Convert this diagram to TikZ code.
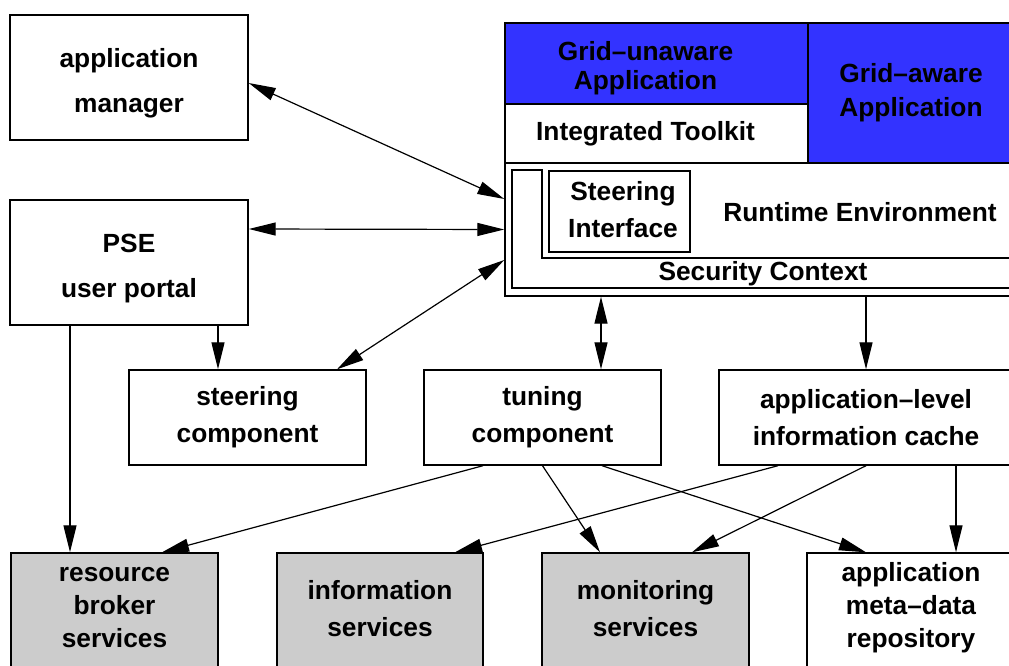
\documentclass[tikz,border=0pt]{standalone}
\usepackage{fontspec}
\setmainfont{Liberation Sans}
\usetikzlibrary{arrows.meta,calc}
\definecolor{gridblue}{RGB}{51,51,255}
\definecolor{svcgray}{RGB}{204,204,204}

\begin{document}
\begin{tikzpicture}
[
	x=1pt, y=-1pt,
	head/.tip={Triangle[length=27pt,width=13pt]},
	box/.style={draw, line width=1.4pt, inner sep=0pt, align=center},
	frame/.style={draw, line width=1.4pt},
	txt/.style={align=center, font=\fontsize{26.3}{#1}\selectfont\bfseries},
	link/.style={line width=1.2pt, -head},
	dlink/.style={line width=1.2pt, head-head}
]
	\useasboundingbox (0,0) rectangle (1009,666);

	% application block
	\draw[frame, fill=gridblue] (505,23) rectangle (808,104);
	\draw[frame] (505,104) rectangle (808,163);
	\draw[frame, fill=gridblue] (808,23) rectangle (1020,163);
	\node[box, minimum width=515pt, minimum height=133pt] (rte) at (762.5,229.5) {};
	\draw[frame] (1020,258) -- (542,258) -- (542,170) -- (512,170) -- (512,288) -- (1020,288);
	\node[box, minimum width=141pt, minimum height=81pt] (steerif) at (619.5,211.5) {};
	\node[txt=37] (steeriftxt) at (623,209.5) {Steering\\Interface};
	\node[txt=29] (gua) at (645.5,68) {Grid\textendash unaware\\Application};
	\node[txt=34] (ga) at (911,93) {Grid\textendash aware\\Application};
	\node[txt=30] (itk) at (645.5,134) {Integrated Toolkit};
	\node[txt=30] (rtetxt) at (860,212.5) {Runtime Environment};
	\node[txt=30] (sec) at (763,274) {Security Context};

	% user side
	\node[box, minimum width=238pt, minimum height=125pt] (appmgr) at (129,77.5) {};
	\node[txt=45] (appmgrtxt) at (129,83.5) {application\\manager};
	\node[box, minimum width=238pt, minimum height=125pt] (pse) at (129,262.5) {};
	\node[txt=45] (psetxt) at (129,268.5) {PSE\\user portal};

	% components
	\node[box, txt=37, minimum width=237pt, minimum height=95pt] (steer) at (247.5,417.5) {steering\\component};
	\node[box, txt=37, minimum width=237pt, minimum height=95pt] (tune) at (542.5,417.5) {tuning\\component};
	\node[box, txt=37, minimum width=294pt, minimum height=95pt] (cache) at (866,417.5) {application\textendash level\\information cache};

	% services
	\node[box, fill=svcgray, minimum width=207pt, minimum height=140pt] (broker) at (114.5,623) {};
	\node[txt=33] (brokertxt) at (114.5,608) {resource\\broker\\services};
	\node[box, fill=svcgray, minimum width=206pt, minimum height=140pt] (info) at (380,623) {};
	\node[txt=37] (infotxt) at (380,608.5) {information\\services};
	\node[box, fill=svcgray, minimum width=207pt, minimum height=140pt] (monitor) at (645.5,623) {};
	\node[txt=37] (monitortxt) at (645.5,608.5) {monitoring\\services};
	\node[box, fill=white, minimum width=208pt, minimum height=140pt] (meta) at (911,623) {};
	\node[txt=33] (metatxt) at (911,608) {application\\meta\textendash data\\repository};

	% connectors
	\draw[dlink] ($(appmgr.east)+(0,5.5)$) -- ($(rte.west)+(0,-30.5)$);
	\draw[dlink] ($(pse.east)+(0,-33.5)$) -- (rte.west);
	\draw[dlink] ($(steer.north)+(89.5,0)$) -- ($(rte.west)+(0,30.5)$);
	\coordinate (p1) at ($(pse.south)+(89,0)$);
	\draw[link] (p1) -- (p1 |- steer.north);
	\coordinate (p2) at ($(pse.south)+(-59,0)$);
	\draw[link] (p2) -- (p2 |- broker.north);
	\coordinate (t1) at ($(tune.north)+(58.5,0)$);
	\draw[dlink] (t1 |- rte.south) -- (t1);
	\draw[link] (cache.north |- rte.south) -- (cache.north);
	\draw[link] ($(tune.south)+(-59.5,0)$) -- ($(broker.north)+(47.5,0)$);
	\draw[link] (tune.south) -- ($(monitor.north)+(-45.5,0)$);
	\draw[link] ($(tune.south)+(59.5,0)$) -- ($(meta.north)+(-45,0)$);
	\draw[link] ($(cache.south)+(-88,0)$) -- ($(info.north)+(75,0)$);
	\draw[link] (cache.south) -- ($(monitor.north)+(46.5,0)$);
	\coordinate (c1) at ($(cache.south)+(90,0)$);
	\draw[link] (c1) -- (c1 |- meta.north);

\end{tikzpicture}
\end{document}
